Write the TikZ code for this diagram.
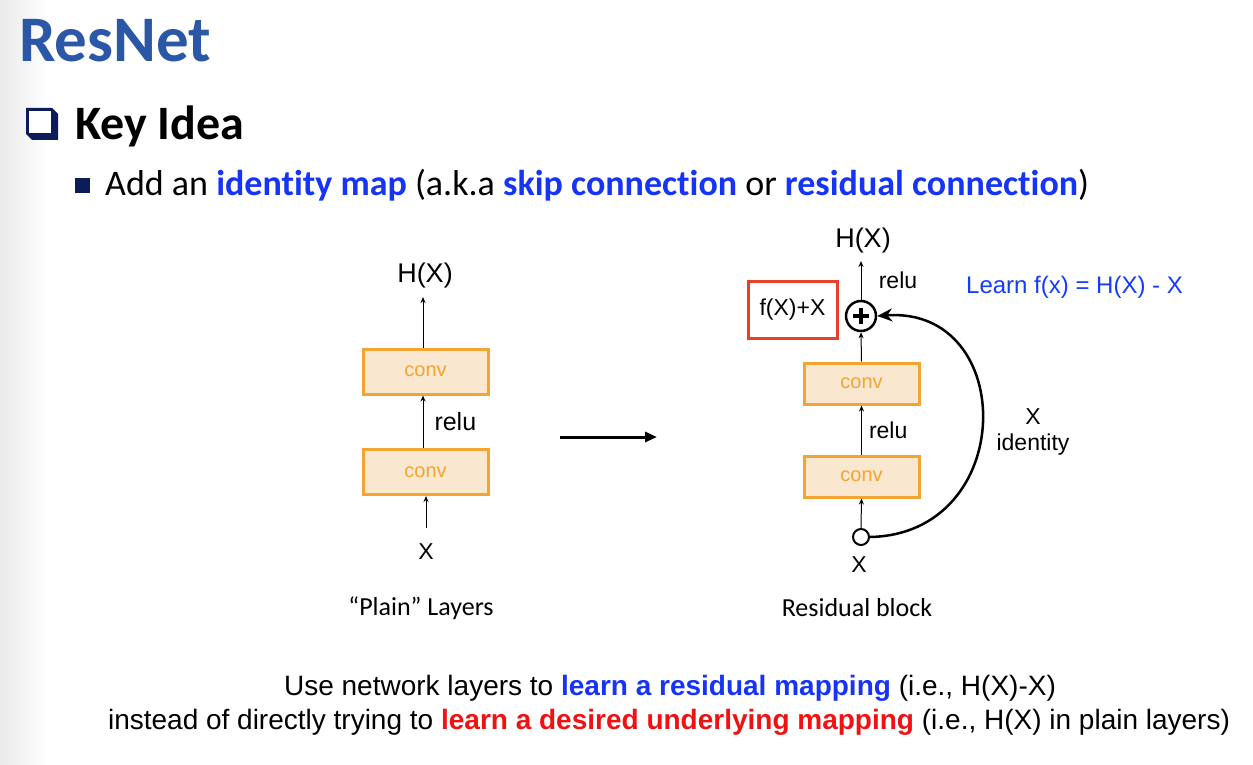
\documentclass[tikz,border=0pt]{standalone}
\usepackage{fontspec}
\setmainfont{Carlito}[Ligatures=NoCommon]
\newfontfamily\arial{Liberation Sans}
\usetikzlibrary{arrows.meta}
\definecolor{titleblue}{RGB}{42,88,166}
\definecolor{navy}{RGB}{12,28,88}
\definecolor{linkblue}{RGB}{22,52,245}
\definecolor{hired}{RGB}{240,18,18}
\definecolor{convfill}{RGB}{249,231,208}
\definecolor{convline}{RGB}{242,165,50}
\definecolor{boxred}{RGB}{232,65,40}
\definecolor{learnblue}{RGB}{20,60,255}
\begin{document}
\begin{tikzpicture}[x=1pt,y=-1pt,
  conv/.style={draw=convline, fill=convfill, line width=3pt, inner sep=0pt,
    text=convline, font=\arial\fontsize{20}{22}\selectfont},
  lbl/.style={font=\arial\fontsize{23}{25}\selectfont, inner sep=0pt},
  relutxt/.style={font=\arial\fontsize{25}{27}\selectfont, inner sep=0pt},
  big/.style={font=\arial\fontsize{27}{29}\selectfont, inner sep=0pt},
  captxt/.style={font=\fontsize{26}{28}\selectfont, inner sep=0pt},
  arr/.style={-{Stealth[length=6pt,width=5pt]}, line width=1pt},
]
\useasboundingbox (0,0) rectangle (1253,765);
\fill[white] (0,0) rectangle (1253,765);
\shade[left color=black!8, right color=white] (0,0) rectangle (50,765);

% header
\node[anchor=base west, text=titleblue, font=\bfseries\fontsize{65}{70}\selectfont, inner sep=0pt] (title) at (19,62) {ResNet};
\fill[navy] (26,108) -- (52,108) -- (58,114) -- (58,140) -- (32,140) -- (26,134) -- cycle;
\fill[white] (29,111) rectangle (51,133);
\node[anchor=base west, font=\bfseries\fontsize{48}{52}\selectfont, inner sep=0pt] (key) at (75,140) {Key Idea};
\fill[navy] (75,178) rectangle (90,193);
\node[anchor=base west, font=\fontsize{36}{40}\selectfont, inner sep=0pt] (add) at (105,195)
  {Add an \textcolor{linkblue}{\bfseries identity map} (a.k.a \textcolor{linkblue}{\bfseries skip connection} or \textcolor{linkblue}{\bfseries residual connection})};

% plain layers
\node[conv, minimum width=125pt, minimum height=45pt] (lc2) at (425.5,371.5) {conv};
\node[conv, minimum width=125pt, minimum height=45pt] (lc1) at (425.5,472) {conv};
\node[big] (lh) at (425,276) {H(X)};
\node[lbl] (lx) at (426,552) {X};
\coordinate (lxtop) at (426,528);
\coordinate (lhb) at (423,297);
\draw[arr] (lxtop) -- (lxtop |- lc1.south);
\draw[arr] (lc1.north -| lhb) -- (lc2.south -| lhb) node[relutxt, midway, anchor=west, xshift=11pt] (lrelu) {relu};
\draw[arr] (lc2.north -| lhb) -- (lhb);
\node[captxt] (plain) at (421,608) {“Plain” Layers};

% transform arrow
\coordinate (ba1) at (560,437);
\coordinate (ba2) at (657,437);
\draw[-{Triangle[length=12pt,width=10pt]}, line width=3pt] (ba1) -- (ba2);

% residual block
\node[conv, minimum width=115pt, minimum height=41pt] (rc2) at (861.5,383.5) {conv};
\node[conv, minimum width=115pt, minimum height=41pt] (rc1) at (861.5,476.5) {conv};
\node[circle, draw, line width=2.5pt, minimum size=30pt, inner sep=0pt, fill=white] (plus) at (861,316) {};
\draw[line width=3.2pt] ([xshift=-8pt]plus.center) -- ([xshift=8pt]plus.center);
\draw[line width=3.2pt] ([yshift=-8pt]plus.center) -- ([yshift=8pt]plus.center);
\node[circle, draw, line width=2pt, minimum size=16pt, inner sep=0pt, fill=white] (xin) at (861,537) {};
\node[lbl] (rx) at (859,565) {X};
\node[big] (rh) at (863,241) {H(X)};
\coordinate (rhb) at (861,261);
\draw[arr] (plus.north) -- (rhb);
\node[lbl] (rrelu1) at (898,280) {relu};
\draw[arr] (rc2.north) -- (plus.south);
\draw[arr] (rc1.north) -- (rc2.south) node[lbl, midway, anchor=west, xshift=7pt] (rrelu2) {relu};
\draw[arr] (xin.north) -- (rc1.south);
\draw[line width=2.5pt, -{Stealth[length=15pt,width=13pt]}] (xin.east) .. controls (1018,534) and (1018,306) .. (plus.east);
\node[draw=boxred, line width=3pt, minimum width=89pt, minimum height=57pt, lbl] (fx) at (792.5,309.5) {f(X)+X};
\node[lbl, font=\arial\fontsize{24}{26}\selectfont, text=learnblue, anchor=west] (learn) at (966,287) {Learn f(x) = H(X) - X};
\node[lbl] (idx) at (1033,417) {X};
\node[lbl] (idt) at (1033,445) {identity};
\node[captxt] (resb) at (857,608) {Residual block};

% bottom text
\node[anchor=base, inner sep=0pt, font=\arial\fontsize{28}{31}\selectfont] (l1) at (670,695)
  {Use network layers to \textcolor{linkblue}{\bfseries learn a residual mapping} (i.e., H(X)-X)};
\node[anchor=base, inner sep=0pt, font=\arial\fontsize{28}{31}\selectfont] (l2) at (669,729)
  {instead of directly trying to \textcolor{hired}{\bfseries learn a desired underlying mapping} (i.e., H(X) in plain layers)};
\end{tikzpicture}
\end{document}
